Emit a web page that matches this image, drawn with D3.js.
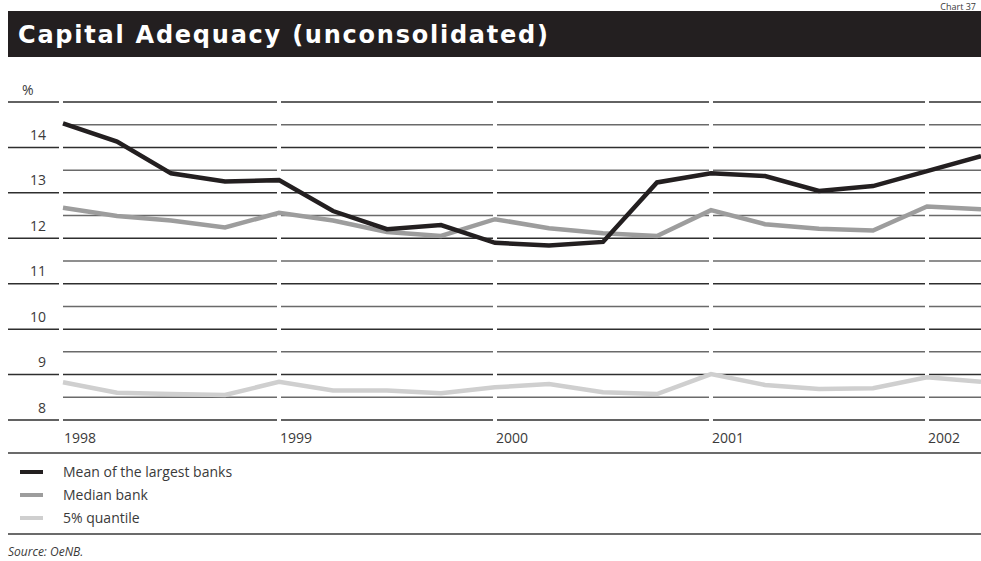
<!DOCTYPE html>
<html>
<head>
<meta charset="utf-8">
<script src="https://cdn.jsdelivr.net/npm/d3@7"></script>
<style>
  body { margin: 0; background: #fff; }
  text { font-family: "Open Sans", "DejaVu Sans", sans-serif; fill: #3a3a3a; }
</style>
</head>
<body>
<svg id="chart" width="981" height="561"></svg>
<script>
// quarterly observations, 1998 Q1 .. 2002 Q2
const quarters = [1998, 1998.25, 1998.5, 1998.75, 1999, 1999.25, 1999.5, 1999.75,
    2000, 2000.25, 2000.5, 2000.75, 2001, 2001.25, 2001.5, 2001.75, 2002, 2002.25];
const meanLargest = [14.53, 14.13, 13.43, 13.25, 13.28, 12.60, 12.20, 12.29, 11.90,
    11.84, 11.92, 13.23, 13.43, 13.37, 13.04, 13.15, 13.48, 13.81];
const medianBank = [12.67, 12.49, 12.39, 12.24, 12.56, 12.39, 12.14, 12.05, 12.42,
    12.22, 12.11, 12.05, 12.62, 12.31, 12.21, 12.17, 12.70, 12.64];
const quantile5 = [8.83, 8.60, 8.57, 8.55, 8.84, 8.65, 8.65, 8.59, 8.72,
    8.79, 8.61, 8.57, 9.01, 8.77, 8.68, 8.70, 8.94, 8.84];
const years = [1998, 1999, 2000, 2001, 2002];
const yTickLabels = [8, 9, 10, 11, 12, 13, 14];
const seriesNames = ["Mean of the largest banks", "Median bank", "5% quantile"];

const svg = d3.select("#chart");
const colors = ["#231f20", "#9d9d9d", "#cfcfcf"];
const series = [meanLargest, medianBank, quantile5];

// chart number above the title bar
svg.append("text")
    .attr("x", 976).attr("y", 10)
    .attr("text-anchor", "end")
    .style("font-size", "9px")
    .text("Chart 37");

// title bar
svg.append("rect")
    .attr("x", 8).attr("y", 11)
    .attr("width", 973).attr("height", 46)
    .attr("fill", "#231f20");
svg.append("text")
    .attr("x", 18).attr("y", 43)
    .attr("textLength", 530)
    .attr("lengthAdjust", "spacing")
    .style("font-family", "'DejaVu Sans', sans-serif")
    .style("font-weight", "bold")
    .style("font-size", "24px")
    .style("fill", "#fff")
    .text("Capital Adequacy (unconsolidated)");

const x = d3.scaleLinear().domain([1998, 2002.25]).range([63, 981]);
const y = d3.scaleLinear().domain([8, 15]).range([420, 102]);

// grid: half-unit lines, broken at every year
const gridVals = d3.range(8, 15.01, 0.5);
const segments = [];
years.forEach((yr, i) => {
    const x0 = i === 0 ? x(yr) : x(yr) + 2;
    const x1 = i < years.length - 1 ? x(years[i + 1]) - 2 : 981;
    segments.push([x0, x1]);
});
const grid = svg.append("g");
gridVals.forEach(v => {
    const major = Number.isInteger(v);
    segments.forEach(s => {
        grid.append("line")
            .attr("x1", s[0]).attr("x2", s[1])
            .attr("y1", y(v)).attr("y2", y(v))
            .attr("stroke", major ? "#2e2e2e" : "#6a6a6a")
            .attr("stroke-width", 1.5);
    });
    if (major) {
        grid.append("line")
            .attr("x1", 8).attr("x2", x(1998) - 4)
            .attr("y1", y(v)).attr("y2", y(v))
            .attr("stroke", "#2e2e2e")
            .attr("stroke-width", 1.5);
    }
});

// y labels sit above their line
svg.append("g").selectAll("text")
    .data(yTickLabels)
    .join("text")
    .attr("x", 46)
    .attr("y", d => y(d) - 7.5)
    .attr("text-anchor", "end")
    .style("font-size", "14px")
    .text(d => d);
svg.append("text")
    .attr("x", 22).attr("y", y(15) - 7.5)
    .style("font-size", "14px")
    .text("%");

// x labels
svg.append("g").selectAll("text")
    .data(years)
    .join("text")
    .attr("x", d => x(d) + 1)
    .attr("y", 443)
    .style("font-size", "14px")
    .text(d => d);

// series lines, lightest first
const line = d3.line()
    .x((d, i) => x(quarters[i]))
    .y(d => y(d));
[2, 1, 0].forEach(k => {
    svg.append("path")
        .datum(series[k])
        .attr("d", line)
        .attr("fill", "none")
        .attr("stroke", colors[k])
        .attr("stroke-width", 4.5)
        .attr("stroke-linejoin", "miter");
});

// separators
[453, 534].forEach(yy => {
    svg.append("line")
        .attr("x1", 8).attr("x2", 981)
        .attr("y1", yy).attr("y2", yy)
        .attr("stroke", "#3a3a3a")
        .attr("stroke-width", 1.5);
});

// legend
const legend = svg.append("g").selectAll("g")
    .data(seriesNames)
    .join("g")
    .attr("transform", (d, i) => `translate(0, ${472 + i * 23})`);
legend.append("line")
    .attr("x1", 20).attr("x2", 43)
    .attr("y1", 0).attr("y2", 0)
    .attr("stroke", (d, i) => colors[i])
    .attr("stroke-width", 4);
legend.append("text")
    .attr("x", 63).attr("y", 5)
    .style("font-size", "14px")
    .text(d => d);

svg.append("text")
    .attr("x", 8).attr("y", 556)
    .style("font-size", "12px")
    .style("font-style", "italic")
    .text("Source: OeNB.");
</script>
</body>
</html>
